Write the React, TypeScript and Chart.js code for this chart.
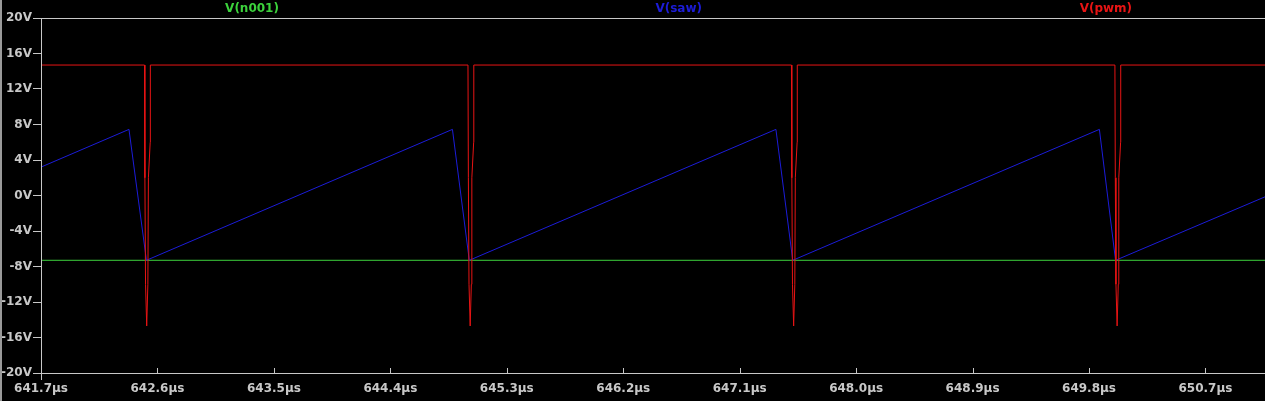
import React, { useEffect, useRef } from "react";
import { Chart, registerables } from "chart.js";

Chart.register(...registerables);

// ---- data ----
const xTickValues = [641.7, 642.6, 643.5, 644.4, 645.3, 646.2, 647.1, 648.0, 648.9, 649.8, 650.7];
const yTickValues = [-20, -16, -12, -8, -4, 0, 4, 8, 12, 16, 20];
const traceNames = ["V(n001)", "V(saw)", "V(pwm)"];

const n001Times = [641.7, 651.16];
const n001Values = [-7.3, -7.3];

const sawTimes = [641.7, 642.38, 642.515, 644.88, 645.01, 647.38, 647.51, 649.88, 650.005, 651.16];
const sawValues = [3.2, 7.45, -7.3, 7.45, -7.3, 7.45, -7.3, 7.45, -7.3, -0.15];

const pwmTimes = [
  641.7,
  642.5, 642.503, 642.508, 642.517, 642.526, 642.53, 642.544, 642.545,
  645.0, 645.003, 645.008, 645.017, 645.026, 645.03, 645.044, 645.045,
  647.5, 647.503, 647.508, 647.517, 647.526, 647.53, 647.544, 647.545,
  650.0, 650.003, 650.008, 650.017, 650.026, 650.03, 650.044, 650.045,
  651.16,
];
const pwmValues = [
  14.7,
  14.7, 2, -10, -14.7, -10, 2, 6, 14.7,
  14.7, 2, -10, -14.7, -10, 2, 6, 14.7,
  14.7, 2, -10, -14.7, -10, 2, 6, 14.7,
  14.7, 2, -10, -14.7, -10, 2, 6, 14.7,
  14.7,
];

const traceColors = ["#3cd23c", "#1c1cd8", "#e81414"];
const axisColor = "#c8c8c8";
const FONT = '"DejaVu Sans", "Liberation Sans", sans-serif';

const toPoints = (t: number[], v: number[]) => t.map((x, i) => ({ x, y: v[i] }));

const framePlugin = {
  id: "ltspiceFrame",
  afterDraw(chart: any) {
    const { ctx, chartArea } = chart;
    const { left, top, right, bottom } = chartArea;
    const xs = chart.scales.x;
    ctx.save();
    ctx.strokeStyle = axisColor;
    ctx.lineWidth = 1;
    ctx.beginPath();
    ctx.moveTo(left, top + 0.5);
    ctx.lineTo(right, top + 0.5);
    ctx.moveTo(left + 0.5, top);
    ctx.lineTo(left + 0.5, bottom + 7);
    ctx.moveTo(left, bottom + 0.5);
    ctx.lineTo(right, bottom + 0.5);
    xTickValues.forEach((v) => {
      const px = Math.round(xs.getPixelForValue(v)) + 0.5;
      ctx.moveTo(px, bottom);
      ctx.lineTo(px, bottom - 5);
    });
    ctx.stroke();
    // window edge
    ctx.strokeStyle = "#9a9a9a";
    ctx.lineWidth = 2;
    ctx.beginPath();
    ctx.moveTo(1, 0);
    ctx.lineTo(1, chart.height);
    ctx.stroke();
    // trace titles
    const fracs = [0.1724, 0.521, 0.87];
    ctx.font = "bold 12px " + FONT;
    ctx.textAlign = "center";
    ctx.textBaseline = "middle";
    traceNames.forEach((name, i) => {
      ctx.fillStyle = traceColors[i];
      ctx.fillText(name, left + (right - left) * fracs[i], top / 2);
    });
    ctx.restore();
  },
};

export default function App() {
  const ref = useRef<HTMLCanvasElement | null>(null);

  useEffect(() => {
    document.body.style.margin = "0";
    document.body.style.background = "#000";
    const canvas = ref.current;
    if (!canvas) return;
    const chart = new Chart(canvas, {
      type: "line",
      data: {
        datasets: [
          {
            label: traceNames[0],
            data: toPoints(n001Times, n001Values),
            borderColor: traceColors[0],
            order: 2,
          },
          {
            label: traceNames[1],
            data: toPoints(sawTimes, sawValues),
            borderColor: traceColors[1],
            order: 1,
          },
          {
            label: traceNames[2],
            data: toPoints(pwmTimes, pwmValues),
            borderColor: traceColors[2],
            order: 0,
          },
        ] as any,
      },
      options: {
        animation: false,
        responsive: false,
        devicePixelRatio: 1,
        layout: { padding: { top: 18, left: 0, right: 0, bottom: 0 } },
        elements: {
          line: { borderWidth: 1, tension: 0 },
          point: { radius: 0 },
        },
        plugins: {
          legend: { display: false },
          tooltip: { enabled: false },
        },
        scales: {
          x: {
            type: "linear",
            min: 641.7,
            max: 651.16,
            afterBuildTicks: (s: any) => {
              s.ticks = xTickValues.map((value) => ({ value }));
            },
            afterFit: (s: any) => {
              s.height = 28;
            },
            grid: { display: false, drawTicks: false },
            border: { display: false },
            ticks: {
              autoSkip: false,
              maxRotation: 0,
              padding: 9,
              color: axisColor,
              font: { family: FONT, size: 12, weight: "bold" },
              callback: (v: any) => Number(v).toFixed(1) + "µs",
            },
          },
          y: {
            type: "linear",
            min: -20,
            max: 20,
            afterBuildTicks: (s: any) => {
              s.ticks = yTickValues.map((value) => ({ value }));
            },
            afterFit: (s: any) => {
              s.width = 41;
            },
            grid: {
              display: true,
              drawOnChartArea: false,
              drawTicks: true,
              tickLength: 8,
              tickColor: axisColor,
              lineWidth: 1,
            },
            border: { display: false },
            ticks: {
              autoSkip: false,
              padding: 1,
              color: axisColor,
              font: { family: FONT, size: 12, weight: "bold" },
              callback: (v: any) => v + "V",
            },
          },
        },
      } as any,
      plugins: [framePlugin],
    });
    return () => chart.destroy();
  }, []);

  return (
    <div style={{ width: 1265, height: 401, background: "#000" }}>
      <canvas ref={ref} width={1265} height={401} style={{ display: "block" }} />
    </div>
  );
}
